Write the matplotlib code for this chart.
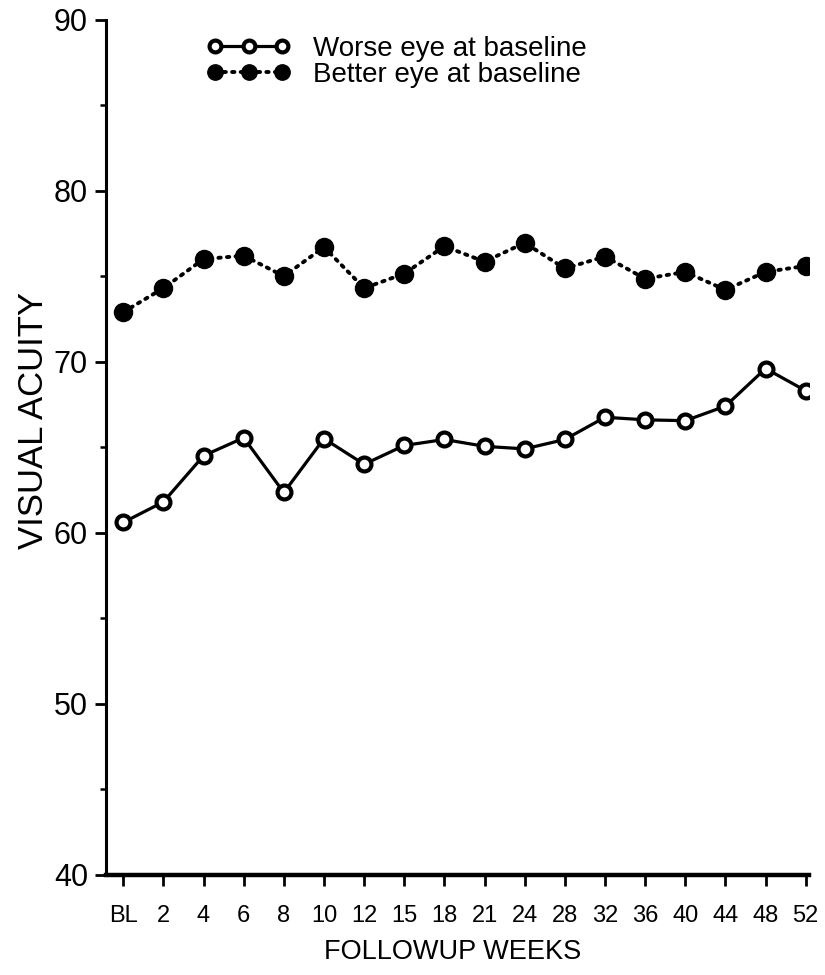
import numpy as np
import matplotlib
matplotlib.use("Agg")
import matplotlib.pyplot as plt
from matplotlib.ticker import MultipleLocator

plt.rcParams['font.family'] = ['Liberation Sans', 'DejaVu Sans']

# follow-up visits
weeks = ['BL', '2', '4', '6', '8', '10', '12', '15', '18', '21', '24', '28',
         '32', '36', '40', '44', '48', '52']

# mean visual acuity
worse_eye = [60.6, 61.8, 64.5, 65.55, 62.35, 65.5, 64.0, 65.1, 65.45, 65.05,
             64.9, 65.45, 66.75, 66.6, 66.55, 67.4, 69.6, 68.3]
better_eye = [72.9, 74.3, 76.0, 76.2, 75.0, 76.7, 74.3, 75.15, 76.75, 75.85,
              76.95, 75.45, 76.15, 74.85, 75.25, 74.2, 75.25, 75.6]


def main():
    fig = plt.figure(figsize=(8.25, 9.75), dpi=100)
    ax = fig.add_axes([0.1285, 0.1029, 0.852, 0.8769])

    x = np.arange(len(weeks))
    ax.plot(x, worse_eye, '-', color='black', lw=2.3,
            marker='o', markersize=10, markerfacecolor='white',
            markeredgecolor='black', markeredgewidth=3.0,
            label='Worse eye at baseline')
    ax.plot(x, better_eye, color='black', lw=2.8, linestyle=(0, (0.6, 1.6)),
            dash_capstyle='round',
            marker='o', markersize=13, markerfacecolor='black',
            markeredgecolor='black',
            label='Better eye at baseline')

    ax.set_xlim(-0.43, 17.08)
    ax.set_ylim(40, 90)
    ax.set_xticks(x)
    ax.set_xticklabels(weeks)
    ax.yaxis.set_major_locator(MultipleLocator(10))
    ax.yaxis.set_minor_locator(MultipleLocator(5))

    for side in ['top', 'right']:
        ax.spines[side].set_visible(False)
    ax.spines['left'].set_linewidth(2.2)
    ax.spines['bottom'].set_linewidth(3.2)

    ax.tick_params(axis='x', direction='out', length=8, width=2,
                   labelsize=17, pad=14)
    ax.tick_params(axis='y', which='major', direction='out', length=8,
                   width=2, labelsize=22, pad=5)
    ax.tick_params(axis='y', which='minor', direction='out', length=4,
                   width=1.8)

    ax.set_ylabel('VISUAL ACUITY', fontsize=25)
    ax.yaxis.set_label_coords(-0.08, 0.531)
    ax.set_xlabel('FOLLOWUP WEEKS', fontsize=19.5)
    ax.xaxis.set_label_coords(0.493, -0.075)

    ax.legend(loc='upper left', bbox_to_anchor=(0.251, 0.963),
              bbox_transform=fig.transFigure, frameon=False, numpoints=3,
              fontsize=20, handlelength=3.0, handletextpad=0.8,
              labelspacing=0.0, borderpad=0, borderaxespad=0,
              markerscale=0.85)

    fig.savefig('out.png', dpi=100, facecolor='white')


if __name__ == '__main__':
    main()
